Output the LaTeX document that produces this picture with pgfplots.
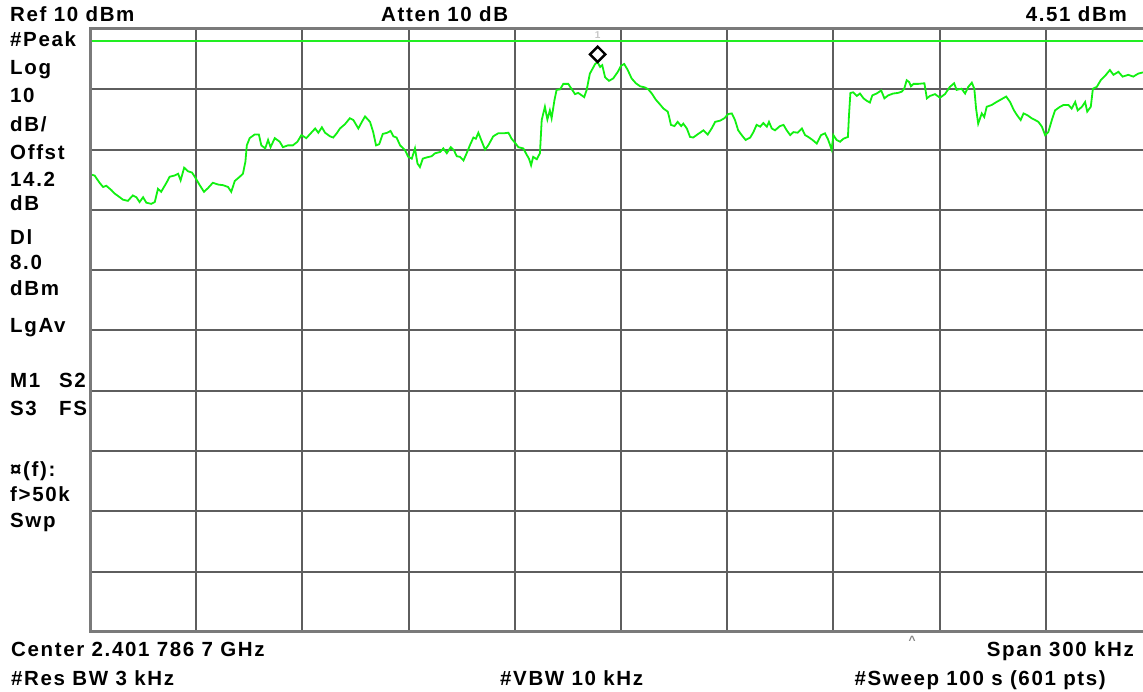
\documentclass[border=0pt]{standalone}
\usepackage{pgfplots}
\pgfplotsset{compat=1.18}
\usepackage{pgfplotstable}
\usepackage{fontspec}
\newfontfamily\saf{Liberation Sans}[LetterSpace=8]
\definecolor{gridgray}{HTML}{5E5E5E}
\definecolor{framegray}{HTML}{7A7A7A}
\definecolor{trace}{HTML}{11F011}
\definecolor{dline}{HTML}{22EE22}

% trace: offset from centre (kHz), level (dBm)
\pgfplotstableread{
f d
-150.0 -14.1
-148.7 -14.3
-147.3 -15.5
-146.3 -16.2
-145.4 -16.0
-144.0 -16.7
-143.0 -17.3
-141.6 -17.9
-140.7 -18.3
-139.3 -18.5
-137.9 -17.6
-136.9 -17.9
-136.0 -18.7
-135.0 -17.9
-134.1 -18.8
-132.7 -19.0
-131.7 -18.7
-130.8 -16.5
-129.9 -17.0
-128.4 -15.5
-127.5 -14.5
-126.1 -14.3
-125.1 -14.0
-124.4 -15.1
-123.4 -13.0
-122.3 -13.6
-121.2 -13.8
-120.4 -14.5
-119.0 -15.9
-117.8 -17.0
-116.7 -16.4
-115.3 -15.5
-113.8 -15.8
-112.4 -15.9
-111.0 -16.2
-110.1 -17.0
-109.1 -15.2
-107.7 -14.5
-106.8 -14.0
-106.1 -12.0
-105.7 -9.3
-104.9 -8.1
-103.5 -7.5
-102.3 -7.5
-101.6 -9.3
-100.5 -9.8
-99.7 -8.4
-99.0 -9.6
-97.8 -8.1
-96.4 -8.7
-95.5 -9.6
-94.1 -9.3
-92.7 -9.3
-91.4 -8.7
-90.3 -7.6
-88.9 -8.1
-86.4 -6.5
-85.5 -7.2
-84.5 -6.3
-83.6 -7.2
-82.2 -7.8
-81.3 -8.0
-80.3 -7.3
-79.4 -6.5
-78.0 -5.8
-76.6 -4.8
-75.6 -5.1
-74.2 -6.5
-73.2 -5.4
-72.3 -4.5
-70.9 -5.4
-70.0 -7.1
-69.2 -9.3
-68.3 -9.1
-67.3 -7.4
-66.0 -7.2
-65.1 -6.9
-64.3 -7.8
-63.4 -8.0
-62.4 -9.3
-61.0 -10.1
-60.1 -11.2
-59.1 -11.5
-58.2 -9.8
-57.5 -12.3
-56.8 -12.9
-56.0 -11.5
-54.9 -11.3
-53.5 -11.1
-52.5 -10.6
-51.1 -10.4
-50.2 -9.8
-49.2 -10.6
-48.1 -9.6
-47.2 -10.1
-46.4 -11.1
-45.5 -11.2
-44.5 -11.8
-43.6 -10.6
-42.7 -9.3
-41.7 -8.0
-41.0 -8.2
-40.3 -7.2
-39.3 -8.7
-38.4 -10.0
-37.5 -9.3
-36.1 -7.8
-34.7 -7.3
-33.2 -7.3
-31.8 -7.2
-30.9 -8.2
-29.9 -8.9
-29.0 -9.6
-27.6 -9.8
-26.6 -10.9
-26.0 -11.5
-25.4 -12.6
-24.8 -11.2
-23.8 -11.6
-22.9 -10.6
-22.4 -5.1
-21.5 -2.9
-20.8 -5.0
-20.1 -3.5
-19.6 -4.8
-18.8 -1.8
-18.2 -0.1
-17.2 0.0
-16.3 0.9
-14.9 0.9
-13.9 0.0
-13.0 -0.8
-12.1 -0.6
-11.1 -1.0
-10.4 -1.3
-9.7 -0.1
-8.8 2.6
-7.3 4.2
-6.6 4.51
-5.9 3.7
-5.3 4.0
-4.5 2.0
-3.4 1.4
-2.2 1.8
-0.9 2.9
0.0 3.9
0.9 4.2
1.9 3.2
3.0 1.8
4.2 1.0
5.4 0.5
6.8 0.3
7.7 0.0
8.7 -0.7
9.8 -1.7
11.0 -2.5
12.0 -3.2
13.2 -3.7
13.6 -4.6
14.1 -5.9
15.1 -6.1
16.0 -5.4
17.0 -6.1
17.6 -5.7
18.6 -6.5
19.5 -7.9
20.4 -8.0
21.8 -7.4
23.3 -6.8
24.5 -7.5
25.6 -6.5
26.6 -5.4
28.0 -5.2
29.2 -4.8
30.3 -4.1
31.3 -4.0
32.2 -5.1
33.1 -6.8
34.1 -7.6
35.2 -8.4
36.5 -8.0
37.4 -7.1
38.3 -5.9
39.3 -6.2
40.2 -5.6
41.2 -6.2
41.8 -5.4
42.6 -6.5
43.5 -6.8
44.9 -6.1
45.9 -5.9
46.8 -6.8
47.8 -7.6
48.7 -7.1
49.9 -7.2
51.1 -6.5
52.0 -7.6
52.9 -7.9
54.1 -8.4
55.3 -9.0
56.5 -7.6
57.6 -7.3
58.4 -8.2
59.1 -9.3
59.5 -10.0
60.0 -7.6
60.9 -8.4
61.9 -8.7
62.8 -8.2
64.1 -7.9
64.4 -4.3
64.8 -0.6
65.6 -0.5
66.6 -1.1
67.5 -0.7
68.5 -1.5
69.4 -1.9
70.3 -2.2
71.0 -1.0
72.2 -0.7
73.5 -0.2
74.4 -1.5
75.5 -1.0
76.9 -0.7
78.2 -0.6
79.3 -0.4
80.0 0.1
80.7 1.5
81.4 1.2
81.9 0.5
82.6 0.9
84.0 0.9
85.7 1.0
86.4 -1.5
87.3 -1.1
88.7 -0.8
90.1 -1.4
91.5 -0.8
92.9 0.4
94.1 1.0
94.8 -0.1
96.2 0.1
97.2 -0.7
98.1 0.4
99.1 1.1
99.8 0.1
100.3 -3.2
100.9 -5.7
101.9 -4.0
102.6 -4.6
103.3 -2.9
104.7 -2.6
106.1 -2.1
107.6 -1.6
108.8 -1.2
109.9 -2.1
111.0 -3.5
112.0 -4.4
112.9 -5.1
113.7 -4.0
114.8 -4.3
116.0 -4.8
117.0 -5.1
117.9 -5.4
118.9 -6.2
119.8 -7.6
120.7 -7.1
121.7 -5.1
122.6 -3.5
124.0 -2.9
125.0 -2.6
126.4 -2.6
127.3 -3.2
128.3 -2.1
129.0 -3.5
130.2 -2.9
131.1 -2.1
131.7 -3.7
132.7 -2.9
133.3 0.1
134.4 0.4
135.5 1.5
136.7 2.2
138.1 3.2
139.1 2.4
140.5 2.9
141.7 2.1
143.3 2.4
144.7 2.1
146.1 2.6
147.4 2.8
150.0 2.9
}\trace

\begin{document}
\begin{tikzpicture}
\saf\bfseries\fontsize{20.5bp}{24bp}\selectfont
\begin{axis}[name=ax,
  at={(90bp,60bp)}, anchor=south west,
  scale only axis, width=1053bp, height=603bp,
  xmin=-150, xmax=147.46, ymin=-90, ymax=10,
  xtick={-120,-90,...,120}, ytick={-80,-70,...,0},
  xticklabels={}, yticklabels={}, major tick length=0pt,
  grid=major, grid style={line width=2bp, color=gridgray},
  axis line style={draw=none}]
\addplot[dline, line width=1.8bp] coordinates {(-150,8) (150,8)};
\addplot[trace, line width=1.8bp] table[x=f, y=d] {\trace};
\addplot[only marks, mark=square, mark size=5.4bp,
  mark options={rotate=45, draw=black, fill=white, line width=2.4bp}]
  coordinates {(-6.6,5.8)};
\node[text=gray!45, font=\fontsize{10bp}{10bp}\selectfont] at (axis cs:-6.6,9.0) {1};
\end{axis}
\draw[framegray, line width=3bp] (ax.north east) -- (ax.north west) -- (ax.south west) -- (ax.south east);

\begin{scope}[every node/.style={inner sep=0pt, anchor=base west}]
\node at (10bp,670bp) {Ref 10 dBm};
\node at (381bp,670bp) {Atten 10 dB};
\node[anchor=base east] at (1127bp,670bp) {4.51 dBm};
\node at (10bp,645bp) {\#Peak};
\node at (10bp,617bp) {Log};
\node at (10bp,589bp) {10};
\node at (10bp,560bp) {dB/};
\node at (10bp,532bp) {Offst};
\node at (10bp,505bp) {14.2};
\node at (10bp,481bp) {dB};
\node at (10bp,447bp) {Dl};
\node at (10bp,422bp) {8.0};
\node at (10bp,396bp) {dBm};
\node at (10bp,359bp) {LgAv};
\node at (10bp,304bp) {M1};
\node at (59bp,304bp) {S2};
\node at (10bp,276bp) {S3};
\node at (59bp,276bp) {FS};
\node at (10bp,215bp) {¤(f):};
\node at (10bp,190bp) {f>50k};
\node at (10bp,164bp) {Swp};
\node at (11bp,36bp) {Center 2.401 786 7 GHz};
\node[anchor=base east] at (1134bp,36bp) {Span 300 kHz};
\node at (11bp,7bp) {\#Res BW 3 kHz};
\node at (500bp,7bp) {\#VBW 10 kHz};
\node[anchor=base east] at (1106bp,7bp) {\#Sweep 100 s (601 pts)};
\node[anchor=center, text=gray, font=\fontsize{12bp}{12bp}\selectfont] at (912bp,52bp) {\textasciicircum};
\end{scope}
\pgfresetboundingbox
\useasboundingbox (0,0) rectangle (1143bp,692bp);
\end{tikzpicture}
\end{document}
